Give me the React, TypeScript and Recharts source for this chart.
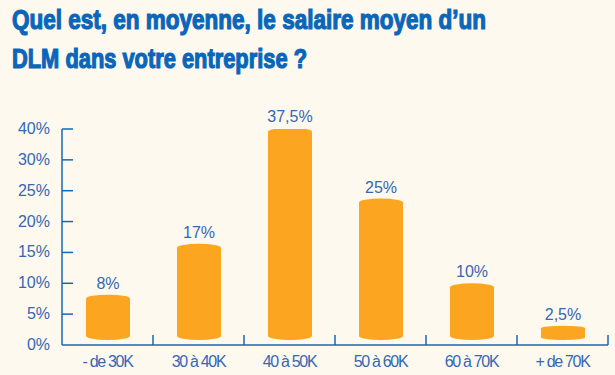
import React from 'react';
import { BarChart, Bar, XAxis, YAxis, LabelList } from 'recharts';

const categories = ['- de 30K', '30 à 40K', '40 à 50K', '50 à 60K', '60 à 70K', '+ de 70K'];
const shares = [8, 17, 37.5, 25, 10, 2.5];
const gridTicks = [0, 5, 10, 15, 20, 25, 30, 35];
const gridTickLabels = ['0%', '5%', '10%', '15%', '20%', '25%', '30%', '40%'];

const data = categories.map((name, i) => ({ name, value: shares[i] }));

const BG = '#FDF9EF';
const ORANGE = '#FBA520';
const AXIS = '#1468B6';
const LABEL = '#3567B3';
const TITLE = '#0A66B8';
const FONT = '"Liberation Sans", Arial, sans-serif';

const fmt = (v: number) => `${String(v).replace('.', ',')}%`;

// cylinder-ish bar: elliptic top and bottom
const Cylinder = (props: any) => {
  const { x, y, width, height } = props;
  if (!height || height <= 0) return null;
  const ry = Math.min(4, height / 6);
  const rx = width / 2;
  const b = y + height;
  const d = `M${x},${y + ry} A${rx},${ry} 0 0 1 ${x + width},${y + ry} L${x + width},${b - ry} A${rx},${ry} 0 0 1 ${x},${b - ry} Z`;
  return <path d={d} fill={ORANGE} />;
};

const YTick = (props: any) => {
  const { x, y, payload, index } = props;
  return (
    <g>
      {payload.value !== 0 && <line x1={x} x2={x + 11} y1={y} y2={y} stroke={AXIS} strokeWidth={1.5} />}
      <text x={x - 12} y={y} dy={5} textAnchor="end" fill={LABEL} fontSize={16} fontFamily={FONT}>
        {gridTickLabels[gridTicks.indexOf(payload.value)] ?? gridTickLabels[index]}
      </text>
    </g>
  );
};

const XTick = (props: any) => {
  const { x, y, payload } = props;
  return (
    <g>
      <line x1={x + 45.5} x2={x + 45.5} y1={y - 10} y2={y} stroke={AXIS} strokeWidth={1.5} />
      <text x={x} y={y + 22} textAnchor="middle" fill={LABEL} fontSize={16} fontFamily={FONT} letterSpacing={-1.3}>
        {payload.value}
      </text>
    </g>
  );
};

export default function App() {
  return (
    <div style={{ position: 'absolute', left: 0, top: 0, width: 615, height: 375, background: BG, overflow: 'hidden' }}>
      <svg width={615} height={80} style={{ position: 'absolute', left: 0, top: 0 }}>
        <text x={12} y={29} fill={TITLE} stroke={TITLE} strokeWidth={1.2} fontSize={27} fontWeight={700} fontFamily={FONT} textLength={474} lengthAdjust="spacingAndGlyphs">
          Quel est, en moyenne, le salaire moyen d’un
        </text>
        <text x={12} y={68} fill={TITLE} stroke={TITLE} strokeWidth={1.2} fontSize={27} fontWeight={700} fontFamily={FONT} textLength={295} lengthAdjust="spacingAndGlyphs">
          DLM dans votre entreprise ?
        </text>
      </svg>
      <div style={{ position: 'absolute', left: 0, top: 0 }}>
        <BarChart width={615} height={375} data={data} margin={{ top: 129, right: 7, bottom: 0, left: 0 }}>
          <XAxis
            dataKey="name"
            height={30}
            axisLine={{ stroke: AXIS, strokeWidth: 1.5 }}
            tickLine={false}
            tickSize={0}
            tickMargin={0}
            tick={<XTick />}
            interval={0}
          />
          <YAxis
            yAxisId="grid"
            type="number"
            domain={[0, 35]}
            ticks={gridTicks}
            width={62}
            axisLine={{ stroke: AXIS, strokeWidth: 1.5 }}
            tickLine={false}
            tickSize={0}
            tickMargin={0}
            tick={<YTick />}
            interval={0}
            allowDataOverflow
          />
          <YAxis yAxisId="val" type="number" domain={[-0.9, 37.3]} hide allowDataOverflow />
          <Bar yAxisId="val" dataKey="value" barSize={44} shape={<Cylinder />} isAnimationActive={false}>
            <LabelList dataKey="value" position="top" offset={6} formatter={(v: any) => fmt(v)} fill={LABEL} fontSize={16} fontFamily={FONT} />
          </Bar>
        </BarChart>
      </div>
    </div>
  );
}
